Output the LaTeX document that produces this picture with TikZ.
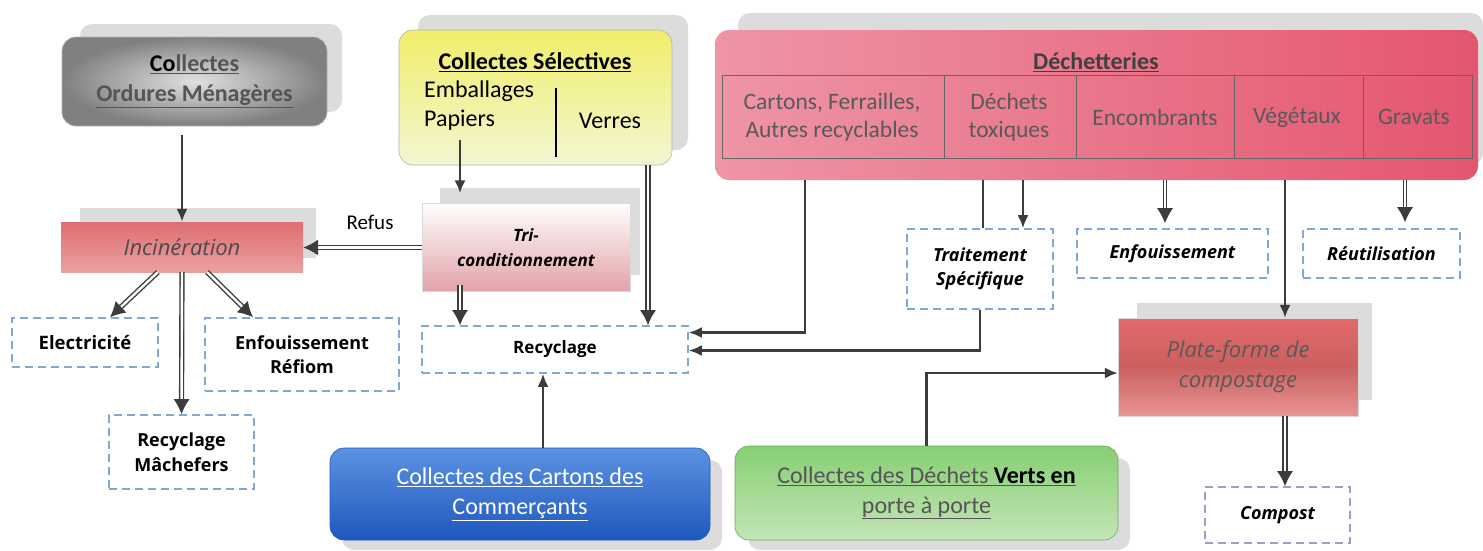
\documentclass[tikz,border=0pt]{standalone}
\usepackage{fontspec}
\setmainfont{Carlito}
\newfontfamily\comic{Open Sans}
\usetikzlibrary{arrows.meta}
\definecolor{arrc}{HTML}{3C3C3C}
\definecolor{dashblue}{HTML}{7FA8D8}
\definecolor{dashpurple}{HTML}{A896CC}
\definecolor{shadowc}{HTML}{DCDCDC}
\definecolor{yelA}{HTML}{F0EE6A}
\definecolor{yelB}{HTML}{F3F6D2}
\definecolor{pinkA}{HTML}{EE95A6}
\definecolor{pinkB}{HTML}{E4566F}
\definecolor{incA}{HTML}{DE6E72}
\definecolor{incB}{HTML}{EBA0A0}
\definecolor{triB}{HTML}{E2A2A6}
\definecolor{bluA}{HTML}{5C92E2}
\definecolor{bluB}{HTML}{1E58BE}
\definecolor{grnA}{HTML}{86CF74}
\definecolor{grnB}{HTML}{C4E5B6}
\definecolor{platA}{HTML}{E26A6A}
\definecolor{platB}{HTML}{E89595}
\definecolor{txtgray}{HTML}{555555}
\tikzset{
  box/.style={rounded corners=14pt, draw=black!30, line width=0.6pt, align=center, inner sep=0pt},
  proc/.style={align=center, inner sep=0pt},
  dbox/.style={draw=dashblue, dash pattern=on 8pt off 5pt, line width=1.6pt, fill=white, align=center, inner sep=0pt},
  arr/.style={draw=arrc, line width=2.2pt, -{Latex[length=13pt,width=11pt]}},
  plain/.style={draw=arrc, line width=2.2pt},
  dbl/.style={draw=arrc, double=white, double distance=2.4pt, line width=1.4pt, -{Latex[length=15pt,width=16pt]}},
  shad/.style={fill=shadowc, rounded corners=12pt},
}
\newcommand{\fs}[1]{\fontsize{#1}{#1}\selectfont}
\begin{document}
\begin{tikzpicture}[x=1pt,y=-1pt]
\useasboundingbox (0,0) rectangle (1483,550);
\fill[white] (0,0) rectangle (1483,550);

% ---------- shadows ----------
\fill[shad] (80,24) rectangle (342,112);
\fill[shad] (418,15) rectangle (688,150);
\fill[shad] (738,13) rectangle (1483,165);
\fill[shadowc] (80,208) rectangle (316,258);
\fill[shadowc] (440,188) rectangle (640,275);
\fill[shadowc] (1137,303) rectangle (1372,400);
\fill[shad] (342,460) rectangle (722,550);
\fill[shad] (748,458) rectangle (1130,550);

% ---------- top boxes ----------
\node[box, minimum width=265pt, minimum height=89pt, inner color=black!12, outer color=black!50,
      font=\fs{24}\bfseries, text=txtgray] (om) at (194.5,81.5)
  {\underline{\textcolor{black}{Co}llectes}\\[6pt]\underline{Ordures Ménagères}};

\node[box, minimum width=273pt, minimum height=135pt, top color=yelA, bottom color=yelB] (sel) at (535.5,97.5) {};
\node[font=\fs{24}\bfseries, inner sep=0pt] (selt) at (535,62) {\underline{Collectes Sélectives}};
\node[font=\fs{24}, anchor=west, inner sep=0pt] (emb) at (424,91) {Emballages};
\node[font=\fs{24}, anchor=west, inner sep=0pt] (pap) at (424,120) {Papiers};
\node[font=\fs{24}, inner sep=0pt] (ver) at (610,121) {Verres};
\draw[black, line width=1.6pt] (556,88) -- (556,157);

\node[box, minimum width=763pt, minimum height=150pt, left color=pinkA, right color=pinkB, draw=none] (dech) at (1096.5,105) {};
\node[font=\fs{24}\bfseries, text=black!75, inner sep=0pt] (decht) at (1096,62) {\underline{Déchetteries}};
\draw[black!60, line width=1pt] (722,75) rectangle (1472,158);
\foreach \xx in {944,1076,1234,1363} \draw[black!60, line width=1pt] (\xx,75) -- (\xx,158);
\node[font=\fs{23.5}, text=black!65, align=center, inner sep=0pt] (c1) at (832,117) {Cartons, Ferrailles,\\[5pt]Autres recyclables};
\node[font=\fs{23.5}, text=black!65, align=center, inner sep=0pt] (c2) at (1009,117) {Déchets\\[5pt]toxiques};
\node[font=\fs{23.5}, text=black!65, inner sep=0pt] (c3) at (1155,117) {Encombrants};
\node[font=\fs{23.5}, text=black!65, inner sep=0pt] (c4) at (1297,117) {Végétaux};
\node[font=\fs{23.5}, text=black!65, inner sep=0pt] (c5) at (1414,117) {Gravats};

% ---------- process boxes ----------
\node[proc, minimum width=242pt, minimum height=50pt, top color=incA, bottom color=incB,
      font=\comic\fs{22}\itshape, text=black!70] (inc) at (182,247) {Incinération};
\node[proc, minimum width=208pt, minimum height=88pt, top color=white, bottom color=triB,
      draw=black!15, font=\comic\fs{17}\bfseries\itshape] (tri) at (526,247.5) {Tri-\\[8pt]conditionnement};
\node[proc, minimum width=240pt, minimum height=98pt, top color=platA, bottom color=platB, middle color=platA!90!black,
      draw=black!15, font=\comic\fs{22}\itshape, text=black!65] (plat) at (1238,367) {Plate-forme de\\[8pt]compostage};

% ---------- dashed result boxes ----------
\node[dbox, minimum width=146pt, minimum height=49pt, font=\comic\fs{18.5}\bfseries] (elec) at (85,342.5) {Electricité};
\node[dbox, minimum width=194pt, minimum height=73pt, font=\comic\fs{18}\bfseries] (refiom) at (302,354.5) {Enfouissement\\[6pt]Réfiom};
\node[dbox, minimum width=145pt, minimum height=74pt, font=\comic\fs{18}\bfseries] (mach) at (181.5,452) {Recyclage\\[6pt]Mâchefers};
\node[dbox, minimum width=266pt, minimum height=47pt, font=\comic\fs{17}\bfseries] (recy) at (555,349.5) {Recyclage};
\node[dbox, minimum width=146pt, minimum height=80pt, font=\comic\fs{18}\bfseries\itshape] (trait) at (980,269) {Traitement\\[6pt]Spécifique};
\node[dbox, minimum width=191pt, minimum height=49pt, font=\comic\fs{18}\bfseries\itshape] (enf) at (1172.5,253.5) {Enfouissement};
\node[dbox, minimum width=157pt, minimum height=49pt, font=\comic\fs{18}\bfseries\itshape] (reut) at (1381.5,253.5) {Réutilisation};
\node[dbox, draw=dashpurple, minimum width=145pt, minimum height=56pt, font=\comic\fs{18}\bfseries\itshape] (compost) at (1277.5,515) {Compost};

% ---------- bottom boxes ----------
\node[box, minimum width=380pt, minimum height=92pt, top color=bluA, bottom color=bluB, draw=bluB,
      font=\fs{24}, text=white] (cart) at (520,494) {\underline{Collectes des Cartons des}\\[6pt]\underline{Commerçants}};
\node[box, minimum width=383pt, minimum height=94pt, top color=grnA, bottom color=grnB, draw=grnA!80!black,
      font=\fs{24}, text=txtgray] (verts) at (926.5,493) {\underline{Collectes des Déchets \textcolor{black}{\bfseries Verts en}}\\[6pt]\underline{porte à porte}};

% ---------- label ----------
\node[font=\fs{21}, inner sep=0pt] (refus) at (370,222) {Refus};

% ---------- connectors ----------
\coordinate (omout) at (182,135);
\draw[arr] (omout) -- (inc.north);
\draw[dbl] (tri.west) -- (tri.west -| inc.east);
\draw[dbl] (158,272) -- ([xshift=25pt]elec.north);
\draw[dbl] (inc.south) -- (mach.north);
\draw[dbl] (207,272) -- ([xshift=-49pt]refiom.north);

\coordinate (papout) at (460,140);
\draw[arr] (papout) -- ([yshift=10pt]papout |- tri.north);
\draw[dbl] (460,285) -- (460,0 |- recy.north);
\draw[dbl] (648,0 |- sel.south) -- (648,0 |- recy.north);

\draw[plain, -{Latex[length=13pt,width=11pt]}] (805,0 |- dech.south) |- ([yshift=17pt]recy.east);
\draw[plain, -{Latex[length=13pt,width=11pt]}] (trait.south) |- ([yshift=-1pt]recy.east);

\draw[plain] (983,0 |- dech.south) -- (983,0 |- trait.north);
\draw[arr] (1023,0 |- dech.south) -- (1023,0 |- trait.north);
\draw[dbl, line width=1pt, double distance=1.6pt] (1165,0 |- dech.south) -- ([yshift=5pt]1165,0 |- enf.north);
\draw[arr] (1285,0 |- dech.south) -- (1285,0 |- plat.north);
\draw[dbl, line width=1pt, double distance=1.6pt] (1405,0 |- dech.south) -- ([yshift=6pt]1405,0 |- reut.north);

\draw[plain, -{Latex[length=13pt,width=11pt]}] (verts.north) |- ([yshift=-6pt]plat.west);
\draw[dbl] (1285,0 |- plat.south) -- (1285,0 |- compost.north);
\draw[arr] (543,0 |- cart.north) -- (543,0 |- recy.south);
\end{tikzpicture}
\end{document}
